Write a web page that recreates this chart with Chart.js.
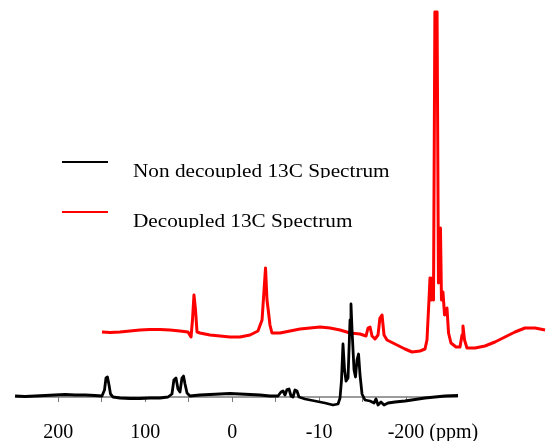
<!DOCTYPE html>
<html><head><meta charset="utf-8">
<script src="https://cdn.jsdelivr.net/npm/chart.js@4/dist/chart.umd.min.js"></script>
<style>html,body{margin:0;padding:0;background:#fff;overflow:hidden}#wrap{width:546px;height:441px;position:relative}</style>
</head><body><div id="wrap"><canvas id="c"></canvas></div>
<script>
// Series labels
const seriesLabels = ['Non decoupled 13C Spectrum', 'Decoupled 13C Spectrum'];

// Non decoupled spectrum (chemical shift in ppm, intensity in arbitrary units)
const blackPpm = [249.7,238.2,226.7,215.2,203.7,192.2,180.7,169.2,157.7,149.7,146.8,145.1,143.4,141.6,139.9,137,129,117.5,106,94.5,83,73.8,69.2,67,64.6,62.3,60,57.7,55.9,54.2,51.9,48.5,37,25.5,13.9,2.5,-9,-20.6,-32,-43.5,-52.8,-56.2,-58.5,-60.8,-63.1,-65.4,-67.7,-70,-72.3,-74.6,-76.9,-83.8,-95.3,-106.8,-116,-121.8,-124.1,-125.8,-127.5,-129.3,-131,-133.3,-135.6,-136.7,-137.9,-140.2,-141.9,-143.6,-145.4,-147.1,-149.4,-152.8,-158.6,-163.2,-165.5,-167.8,-171.2,-174.7,-179.3,-187.3,-198.8,-210.3,-221.8,-233.3,-244.8,-259.8];
const blackInt = [1,0.5,1,1.5,2,2.5,2,2,1.5,1,7,19,20,12,3,0,-1,-1.5,-1.5,-1,-1,0,3,17,19,8,5,19,21,13,4,1,2,2.5,3,3.5,3,2.5,2,1,1,5,6,2,7.5,8,1,0,7,6,0,-2,-4,-6,-8,-7,-1,17,53,27,16,19,77,93,67,27,20,37,43,22,3,-3,-4,-6,-2,-8,-5,-8,-6,-5,-4,-2.5,-1,0,1,1.5];

// Decoupled spectrum (stacked trace: ppm position and intensity as drawn)
const redPpm = [149.7,140.5,129,117.5,106,94.5,83,71.5,60,50.8,47.3,45.6,43.9,42.1,40.4,37,25.5,13.9,2.5,-9,-20.6,-29.7,-34.4,-36.7,-38.4,-40.1,-41.8,-43.5,-45.8,-55.1,-66.6,-78.1,-89.6,-101.1,-112.6,-124.1,-135.6,-147.1,-154,-156.3,-158.6,-160.9,-164.3,-167.8,-170,-172.4,-174.7,-178.1,-187.3,-198.8,-206.9,-216.1,-221.8,-224.1,-226.4,-227.6,-228.7,-229.9,-231.6,-233.2,-235.7,-237.3,-239.6,-240.8,-242.5,-244.3,-246,-247.1,-248.9,-251.7,-257.5,-262.1,-264.4,-265.5,-267.3,-270.1,-279.4,-290.8,-302.3,-313.8,-325.3,-336.8,-348.4,-359.9];
const redInt = [65,64.5,65,66,67,67.5,67.5,67,66,65,60,77,102,87,65,64,62,61,60,60,62,66,77,107,129,97,85,72,64,64,66,68,69,70,69,67,64,63,61,69,70,61,58,62,79,82,62,57,53,48,45,46,48,57,97,119,97,109,97,385,385,114,169,97,105,82,85,89,64,54,50,50,62,71,57,49,49,51,55,60,65,69,69,67];

// Axis ticks
const tickValues = [200,150,100,50,0,-50,-100,-150,-200];
const tickLabels = ['200','','100','','0','','-10','','-200'];
const axisUnit = '(ppm)';
const axisExtent = [249.7, -259.8];

const axisPlugin = {
  id: 'axisLine',
  beforeDatasetsDraw(chart, args, opts) {
    const x = chart.scales.x, y = chart.scales.y, ctx = chart.ctx;
    const yp = y.getPixelForValue(0);
    ctx.save();
    ctx.strokeStyle = opts.color; ctx.lineWidth = opts.width;
    ctx.beginPath();
    ctx.moveTo(x.getPixelForValue(axisExtent[0]), yp);
    ctx.lineTo(x.getPixelForValue(axisExtent[1]), yp);
    ctx.stroke();
    ctx.restore();
  },
  afterDraw(chart, args, opts) {
    const x = chart.scales.x, y = chart.scales.y, ctx = chart.ctx;
    const t = x.options.ticks;
    const fs = t.font.size;
    const last = tickValues[tickValues.length - 1];
    const lbl = tickLabels[tickLabels.length - 1];
    ctx.save();
    ctx.font = fs + 'px ' + t.font.family;
    ctx.fillStyle = t.color;
    ctx.textBaseline = 'middle';
    ctx.textAlign = 'left';
    const w = ctx.measureText(lbl).width;
    const ty = y.getPixelForValue(0) + x.options.grid.tickLength + t.padding + fs * 1.2 / 2;
    ctx.fillText(' ' + axisUnit, x.getPixelForValue(last) + w / 2, ty);
    ctx.restore();
  }
};

const legendPlugin = {
  id: 'stackLegend',
  afterDraw(chart, args, opts) {
    const ctx = chart.ctx;
    chart.data.datasets.forEach((ds, i) => {
      const ly = opts.lineY[i], tb = opts.textBase[i];
      ctx.save();
      ctx.strokeStyle = ds.borderColor; ctx.lineWidth = 2;
      ctx.beginPath(); ctx.moveTo(opts.lineX0, ly); ctx.lineTo(opts.lineX1, ly); ctx.stroke();
      ctx.beginPath(); ctx.rect(0, tb - 40, chart.width, 40 + opts.clipBelow); ctx.clip();
      ctx.translate(opts.textX, tb); ctx.scale(opts.stretch, 1);
      ctx.font = opts.font; ctx.fillStyle = '#000'; ctx.textBaseline = 'alphabetic'; ctx.textAlign = 'left';
      ctx.fillText(ds.label, 0, 0);
      ctx.restore();
    });
  }
};

new Chart(document.getElementById('c'), {
  type: 'line',
  data: {
    datasets: [
      { label: seriesLabels[0], data: blackPpm.map((v, i) => ({x: v, y: blackInt[i]})), borderColor: '#000000', borderWidth: 2.8, pointRadius: 0, tension: 0, clip: false, borderJoinStyle: 'round' },
      { label: seriesLabels[1], data: redPpm.map((v, i) => ({x: v, y: redInt[i]})), borderColor: '#ff0000', borderWidth: 3, pointRadius: 0, tension: 0, clip: false, borderJoinStyle: 'round' }
    ]
  },
  options: {
    responsive: true, maintainAspectRatio: false, animation: false, devicePixelRatio: 1,
    layout: { padding: 0 },
    plugins: {
      legend: { display: false }, tooltip: { enabled: false },
      axisLine: { color: '#7a7a7a', width: 1.5 },
      stackLegend: { lineX0: 62, lineX1: 108, lineY: [162, 212], textX: 133, textBase: [177, 227], clipBelow: 1, stretch: 1.18, font: '18px "Liberation Serif", "Times New Roman", serif' }
    },
    scales: {
      x: {
        type: 'linear', reverse: true, min: -361, max: 267,
        position: { y: 0 },
        border: { display: false },
        grid: { display: true, drawOnChartArea: false, drawTicks: true, tickLength: 5, color: '#7a7a7a', lineWidth: 1 },
        afterBuildTicks: (s) => { s.ticks = tickValues.map(v => ({ value: v })); },
        ticks: {
          autoSkip: false, maxRotation: 0, minRotation: 0, padding: 19, color: '#000',
          font: { family: '"Liberation Serif", "Times New Roman", serif', size: 20 },
          callback: (v) => { const i = tickValues.indexOf(v); return i >= 0 ? tickLabels[i] : ''; }
        }
      },
      y: { type: 'linear', display: false, min: -44, max: 397 }
    }
  },
  plugins: [axisPlugin, legendPlugin]
});
</script></body></html>
